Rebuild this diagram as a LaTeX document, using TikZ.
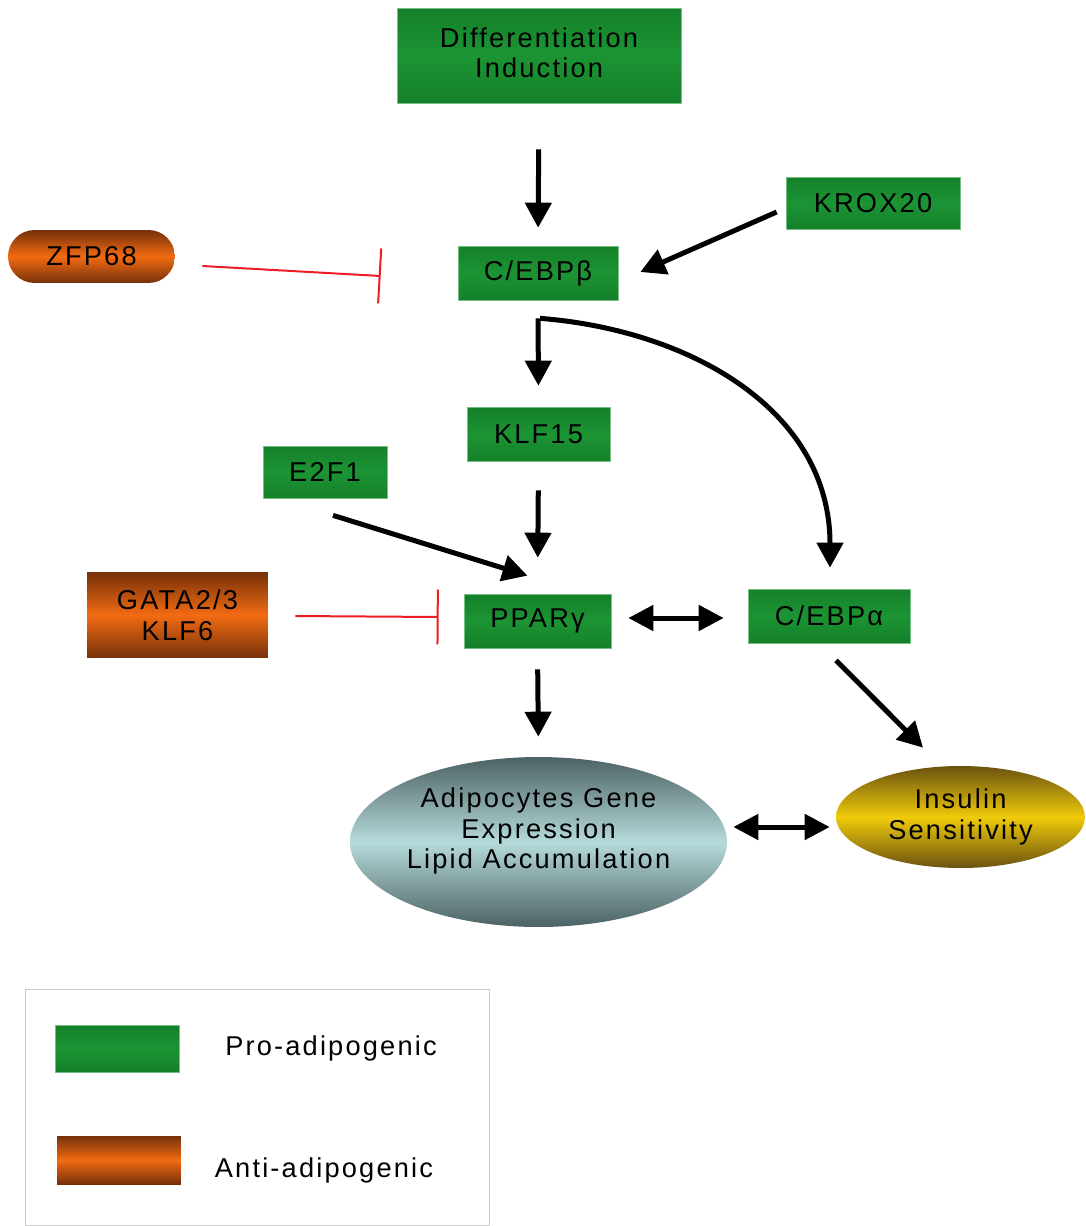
\documentclass[tikz,border=0pt]{standalone}
\usepackage{fontspec}
\setmainfont[LetterSpace=8]{Liberation Sans}
\usepackage{tikz}
\usetikzlibrary{positioning,shapes.geometric,arrows.meta}

\definecolor{progreen}{HTML}{1C9434}
\definecolor{progreendk}{HTML}{148029}
\definecolor{antiorange}{HTML}{F26B12}
\definecolor{antibrown}{HTML}{76300A}
\definecolor{adlight}{HTML}{B6DADA}
\definecolor{addark}{HTML}{4C6264}
\definecolor{insyellow}{HTML}{F0CB0A}
\definecolor{insdark}{HTML}{6A5210}
\definecolor{inhred}{HTML}{EE1C24}

\tikzset{
  pro/.style={rectangle, top color=progreendk, bottom color=progreendk, middle color=progreen, draw=progreen!60!white, line width=0.4pt},
  anti/.style={rectangle, top color=antibrown, bottom color=antibrown, middle color=antiorange},
  act/.style={line width=0.1cm, -{Triangle[length=0.5cm,width=0.52cm]}},
  biact/.style={line width=0.1cm, {Triangle[length=0.5cm,width=0.5cm]}-{Triangle[length=0.5cm,width=0.5cm]}},
  inh/.style={inhred, line width=0.04cm, -{Bar[width=1.1cm,line width=0.04cm]}}
}

\begin{document}
\begin{tikzpicture}[x=0.02cm, y=-0.02cm, font=\fontsize{15.5}{17.6}\selectfont]
                    \useasboundingbox (0,0) rectangle (1085,1226);

                    \node[pro, minimum width=5.68cm, minimum height=1.9cm, align=center] (DI) at (539,55.5) {Differentiation\\Induction\vphantom{p}};
                    \node[pro, minimum width=3.48cm, minimum height=1.04cm] (KROX) at (873,203) {KROX20};
                    \node[anti, rounded corners=0.53cm, minimum width=3.34cm, minimum height=1.06cm] (ZFP) at (91.5,256.5) {ZFP68};
                    \node[pro, minimum width=3.2cm, minimum height=1.08cm] (CB) at (538,273) {C/EBPβ};
                    \node[pro, minimum width=2.86cm, minimum height=1.08cm] (KLF) at (538.5,434) {KLF15};
                    \node[pro, minimum width=2.48cm, minimum height=1.04cm] (E2F) at (325,472) {E2F1};
                    \node[anti, minimum width=3.62cm, minimum height=1.72cm, align=center] (GATA) at (177.5,615) {GATA2/3\\KLF6};
                    \node[pro, minimum width=2.94cm, minimum height=1.08cm] (PPAR) at (537.5,621) {PPARγ};
                    \node[pro, minimum width=3.24cm, minimum height=1.08cm] (CA) at (829,616) {C/EBPα};
                    \node[ellipse, inner sep=0pt, top color=addark, bottom color=addark, middle color=adlight, minimum width=7.54cm, minimum height=3.4cm,
                          label={[align=center, yshift=0.22cm]center:Adipocytes Gene\\Expression\\Lipid Accumulation}] (AG) at (538.5,842) {};
                    \node[ellipse, inner sep=0pt, top color=insdark, bottom color=insdark, middle color=insyellow, minimum width=4.98cm, minimum height=2.04cm,
                          label={[align=center]center:Insulin\\Sensitivity}] (IS) at (960.5,817) {};

                    % legend
                    \draw[black!20, line width=0.5pt] (25,989) rectangle (489,1225);
                    \node[pro, minimum width=2.48cm, minimum height=0.94cm] (LP) at (117,1048.5) {};
                    \node[anti, minimum width=2.48cm, minimum height=0.96cm] (LA) at (119,1160) {};
                    \node (PT) at (331,1048) {Pro-adipogenic};
                    \node (AT) at (324,1170) {Anti-adipogenic};

                    \draw[act, shorten <=0.92cm, shorten >=0.36cm] (DI.south) -- (CB.north);
                    \draw[act] ([shift={(-9,9)}]KROX.west) -- ([shift={(22,-1)}]CB.east);
                    \draw[inh] ([shift={(27,9.5)}]ZFP.east) -- ([shift={(-77,3)}]CB.west);
                    \draw[act, shorten <=0.36cm, shorten >=0.42cm] (CB.south) -- (KLF.north);
                    \draw[act] ([shift={(2,18)}]CB.south) .. controls (690,330) and (830,410) .. ([shift={(1,-21)}]CA.north);
                    \draw[act, shorten <=0.58cm, shorten >=0.72cm] (KLF.south) -- (PPAR.north);
                    \draw[act] ([shift={(8,17)}]E2F.south) -- ([shift={(-10,-18)}]PPAR.north);
                    \draw[inh] ([shift={(27,1)}]GATA.east) -- ([shift={(-25,-4)}]PPAR.west);
                    \draw[biact] ([shift={(17,-3)}]PPAR.east) -- ([shift={(-24,2)}]CA.west);
                    \draw[act, shorten <=0.42cm, shorten >=0.4cm] (PPAR.south) -- (AG.north);
                    \draw[act] ([shift={(7,17)}]CA.south) -- ([shift={(-37.5,-18)}]IS.north);
                    \draw[biact] ([shift={(6,-15)}]AG.east) -- ([shift={(-6,10)}]IS.west);
                \end{tikzpicture}
\end{document}
